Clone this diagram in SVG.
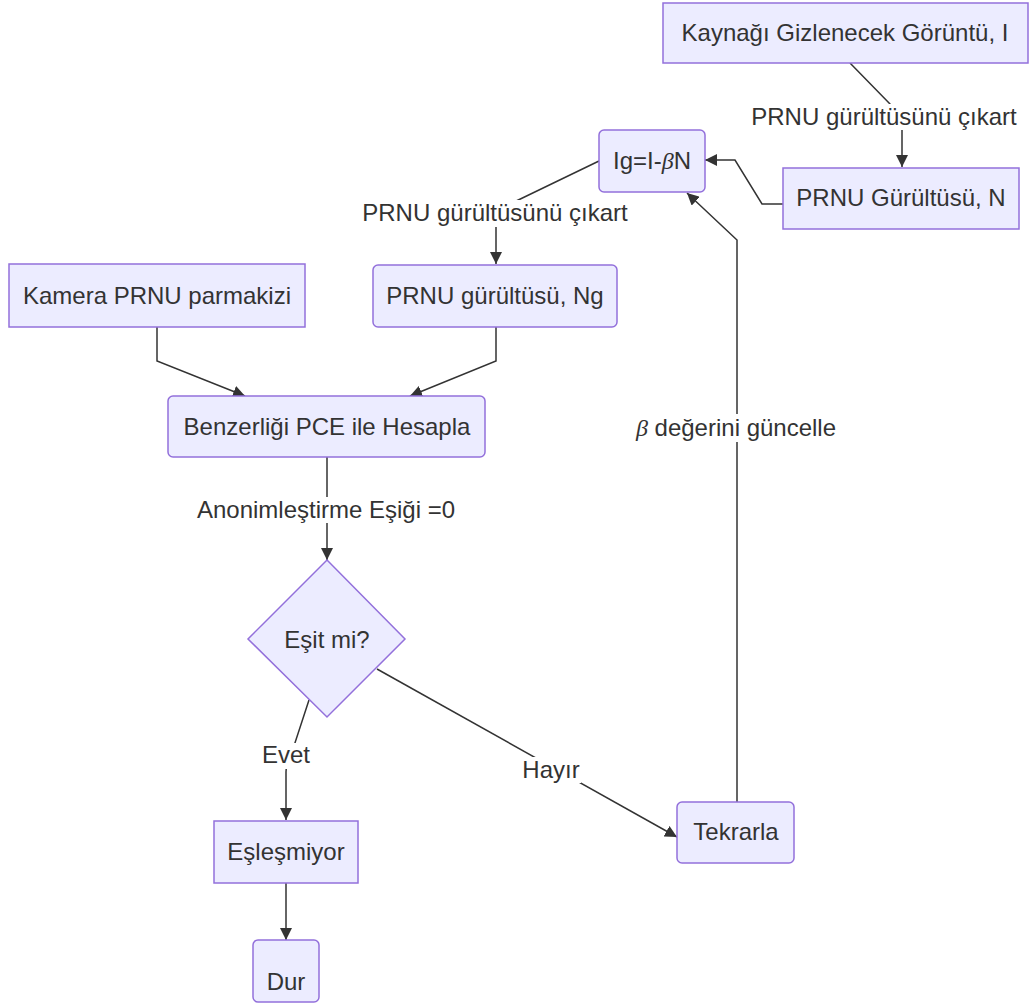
<svg xmlns="http://www.w3.org/2000/svg" width="1030" height="1008" viewBox="0 0 1030 1008">
<style>
.node rect, .node polygon { fill: #ECECFF; stroke: #9370DB; stroke-width: 1.5; }
text { font-family: "Liberation Sans", Arial, sans-serif; font-size: 24px; fill: #333333; text-anchor: middle; }
.math { font-family: "Liberation Serif", "DejaVu Serif", serif; font-style: italic; }
.edge { fill: none; stroke: #333333; stroke-width: 1.5; }
.lbg { fill: #FFFFFF; stroke: none; }
</style>
<defs>
<marker id="arrow" viewBox="0 0 10 10" refX="10" refY="5" markerUnits="userSpaceOnUse" markerWidth="12" markerHeight="12" orient="auto">
<path d="M0,0 L10,5 L0,10 z" fill="#333333"/>
</marker>
</defs>
<rect width="1030" height="1008" fill="#FFFFFF"/>
<g id="connectors">
<path class="edge" d="M850,63 L890,104 Q902,116 902,130 L902,167" marker-end="url(#arrow)"/>
<path class="edge" d="M783,204 L762,204 L735,160 L705,160" marker-end="url(#arrow)"/>
<path class="edge" d="M599,161 L510,204 Q496,210 496,224 L496,264" marker-end="url(#arrow)"/>
<path class="edge" d="M157,327 L157,361 L245,396" marker-end="url(#arrow)"/>
<path class="edge" d="M496,327 L496,361 L410,396" marker-end="url(#arrow)"/>
<path class="edge" d="M327,457 L327,560" marker-end="url(#arrow)"/>
<path class="edge" d="M309,700 L292,752 Q286,762 286,772 L286,820" marker-end="url(#arrow)"/>
<path class="edge" d="M286,883 L286,940" marker-end="url(#arrow)"/>
<path class="edge" d="M377,669 L677,837" marker-end="url(#arrow)"/>
<path class="edge" d="M737,802 L737,240 L687,193" marker-end="url(#arrow)"/>
<g id="edge-labels">
<rect class="lbg" x="749" y="104" width="270" height="26"/>
<text x="884" y="125">PRNU gürültüsünü çıkart</text>
<rect class="lbg" x="361" y="200" width="269" height="27"/>
<text x="495" y="221">PRNU gürültüsünü çıkart</text>
<rect class="lbg" x="195" y="497" width="263" height="26"/>
<text x="326" y="518">Anonimleştirme Eşiği =0</text>
<rect class="lbg" x="261" y="743" width="50" height="26"/>
<text x="286" y="763">Evet</text>
<rect class="lbg" x="521" y="757" width="60" height="26"/>
<text x="551" y="778">Hayır</text>
<rect class="lbg" x="628" y="414" width="216" height="28"/>
<text x="736" y="436"><tspan class="math">β</tspan> değerini güncelle</text>
</g>
</g>
<g id="node-top" class="node">
<rect x="663" y="3" width="365" height="60"/>
<text x="845" y="41">Kaynağı Gizlenecek Görüntü, I</text>
</g>
<g id="node-N" class="node">
<rect x="783" y="168" width="236" height="61"/>
<text x="901" y="206">PRNU Gürültüsü, N</text>
</g>
<g id="node-Ig" class="node">
<rect x="599" y="130" width="106" height="62" rx="5" ry="5"/>
<text x="652" y="169">Ig=I-<tspan class="math">β</tspan>N</text>
</g>
<g id="node-kamera" class="node">
<rect x="9" y="264" width="296" height="63"/>
<text x="157" y="304">Kamera PRNU parmakizi</text>
</g>
<g id="node-Ng" class="node">
<rect x="373" y="265" width="244" height="62" rx="5" ry="5"/>
<text x="495" y="304">PRNU gürültüsü, Ng</text>
</g>
<g id="node-benz" class="node">
<rect x="168" y="396" width="317" height="61" rx="5" ry="5"/>
<text x="327" y="435">Benzerliği PCE ile Hesapla</text>
</g>
<g id="node-esit" class="node">
<polygon points="327,560 405,639 327,717 248,639"/>
<text x="327" y="648">Eşit mi?</text>
</g>
<g id="node-esles" class="node">
<rect x="214" y="821" width="144" height="62"/>
<text x="286" y="860">Eşleşmiyor</text>
</g>
<g id="node-dur" class="node">
<rect x="253" y="940" width="66" height="62" rx="5" ry="5"/>
<text x="286" y="990">Dur</text>
</g>
<g id="node-tekrar" class="node">
<rect x="677" y="802" width="117" height="61" rx="5" ry="5"/>
<text x="736" y="840">Tekrarla</text>
</g>
</svg>
